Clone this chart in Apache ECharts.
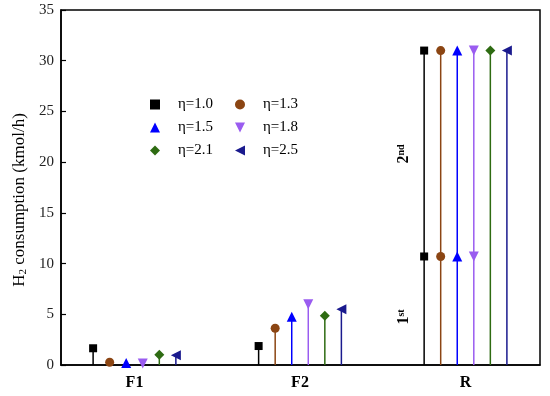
<!DOCTYPE html>
<html>
<head>
<meta charset="utf-8">
<script src="https://cdn.jsdelivr.net/npm/echarts@6/dist/echarts.min.js"></script>
<style>html,body{margin:0;padding:0;background:#fff}#c{width:550px;height:396px}</style>
</head>
<body>
<div id="c"></div>
<script>
// ---- data ----
const groups = ['F1', 'F2', 'R'];
const etaNames = ['η=1.0', 'η=1.3', 'η=1.5', 'η=1.8', 'η=2.1', 'η=2.5'];
const valuesF1 = [1.65, 0.27, 0.2, 0.15, 1.0, 0.95];
const valuesF2 = [1.87, 3.62, 4.76, 6.0, 4.86, 5.49];
const valuesR1st = [10.7, 10.7, 10.7, 10.7, null, null];
const valuesR2nd = [31.0, 31.0, 31.0, 31.0, 31.0, 31.0];
const yTicks = [0, 5, 10, 15, 20, 25, 30, 35];

// ---- styles ----
const colors = ['#000000', '#8B4513', '#0000FF', '#9A5CF0', '#2E6B12', '#1A1A8E'];
const symbols = ['rect', 'circle', 'triangle', 'path://M0,0 L10,0 L5,10 Z', 'diamond', 'path://M10,0 L10,10 L0,5 Z'];
const symbolSizes = [8, 9, 10, 10, 10, 10];
const FONT = "'Liberation Serif', 'Times New Roman', serif";
const offsetStep = 0.1;

const series = [];
etaNames.forEach((name, i) => {
  const off = (i - 2.5) * offsetStep;
  const pts = [];
  const stems = [];
  const perGroup = [[valuesF1[i]], [valuesF2[i]], [valuesR1st[i], valuesR2nd[i]]];
  perGroup.forEach((vals, g) => {
    let top = null;
    vals.forEach(v => {
      if (v !== null && v !== undefined) {
        pts.push([g + off, v]);
        top = top === null ? v : Math.max(top, v);
      }
    });
    if (top !== null) stems.push([g + off, top]);
  });
  series.push({
    name: name,
    type: 'scatter',
    data: pts,
    symbol: symbols[i],
    symbolSize: symbolSizes[i],
    itemStyle: { color: colors[i], opacity: 1 },
    clip: false,
    z: 5
  });
  series.push({
    name: name,
    type: 'custom',
    data: stems,
    encode: { x: 0, y: 1 },
    z: 2,
    silent: true,
    renderItem: (params, api) => {
      const x = api.value(0), y = api.value(1);
      const p0 = api.coord([x, 0]);
      const p1 = api.coord([x, y]);
      return { type: 'line', shape: { x1: p0[0], y1: p0[1], x2: p1[0], y2: p1[1] },
               style: { stroke: colors[i], lineWidth: 1.5 } };
    }
  });
});

const legendCommon = {
  orient: 'vertical',
  padding: 0,
  itemWidth: 10,
  itemHeight: 10,
  itemGap: 8,
  textStyle: { fontFamily: FONT, fontSize: 15, color: '#000', padding: [0, 0, 0, 13] }
};

const chart = echarts.init(document.getElementById('c'), null, { renderer: 'canvas' });
chart.setOption({
  animation: false,
  backgroundColor: '#fff',
  grid: { left: 61, right: 10, top: 10, bottom: 31, show: true, borderColor: '#000', borderWidth: 1.5, backgroundColor: 'transparent' },
  legend: [
    Object.assign({ left: 150, top: 97, data: [etaNames[0], etaNames[2], etaNames[4]] }, legendCommon),
    Object.assign({ left: 235, top: 97, data: [etaNames[1], etaNames[3], etaNames[5]] }, legendCommon)
  ],
  xAxis: {
    type: 'value',
    min: -0.444,
    max: 2.45,
    splitLine: { show: false },
    axisLine: { show: true, onZero: false, lineStyle: { color: '#000', width: 1.5 } },
    axisTick: { show: false },
    axisLabel: {
      customValues: [0, 1, 2],
      formatter: v => groups[Math.round(v)],
      fontFamily: FONT, fontSize: 16, fontWeight: 'bold', color: '#000', margin: 10
    }
  },
  yAxis: {
    type: 'value',
    min: yTicks[0],
    max: yTicks[yTicks.length - 1],
    interval: 5,
    splitLine: { show: false },
    axisLine: { show: true, onZero: false, lineStyle: { color: '#000', width: 1.5 } },
    axisTick: { show: true, inside: true, length: 5, lineStyle: { color: '#000', width: 1.2 } },
    axisLabel: { fontFamily: FONT, fontSize: 15, color: '#222', margin: 7 }
  },
  graphic: [
    {
      type: 'text', x: 20, y: 200, rotation: Math.PI / 2,
      style: {
        text: '{a|H}{b|2}{a| consumption (kmol/h)}',
        align: 'center', verticalAlign: 'middle',
        rich: {
          a: { fontFamily: FONT, fontSize: 17, lineHeight: 17, fill: '#000' },
          b: { fontFamily: FONT, fontSize: 11, lineHeight: 11, verticalAlign: 'bottom', fill: '#000' }
        }
      }
    },
    {
      type: 'text', x: 404, y: 317, rotation: Math.PI / 2,
      style: {
        text: '{a|1}{b|st}', align: 'center', verticalAlign: 'middle',
        rich: {
          a: { fontFamily: FONT, fontSize: 16, fontWeight: 'bold', lineHeight: 16, fill: '#000' },
          b: { fontFamily: FONT, fontSize: 10, fontWeight: 'bold', lineHeight: 10, verticalAlign: 'top', fill: '#000' }
        }
      }
    },
    {
      type: 'text', x: 404, y: 154, rotation: Math.PI / 2,
      style: {
        text: '{a|2}{b|nd}', align: 'center', verticalAlign: 'middle',
        rich: {
          a: { fontFamily: FONT, fontSize: 16, fontWeight: 'bold', lineHeight: 16, fill: '#000' },
          b: { fontFamily: FONT, fontSize: 10, fontWeight: 'bold', lineHeight: 10, verticalAlign: 'top', fill: '#000' }
        }
      }
    }
  ],
  series: series
});
</script>
</body>
</html>
